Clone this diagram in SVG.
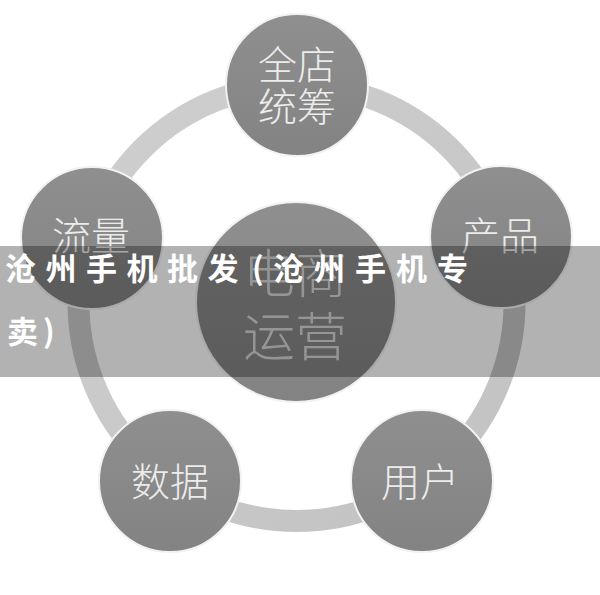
<svg xmlns="http://www.w3.org/2000/svg" width="600" height="595" viewBox="0 0 600 595">
  <defs>
    <linearGradient id="nodeFill" x1="0" y1="0" x2="0" y2="1">
      <stop offset="0" stop-color="#8f8f8f"/>
      <stop offset="1" stop-color="#838383"/>
    </linearGradient>
    <linearGradient id="ringFill" x1="0" y1="0" x2="1" y2="1">
      <stop offset="0" stop-color="#cfcfcf"/>
      <stop offset="1" stop-color="#c2c2c2"/>
    </linearGradient>
  </defs>
  <style>
    .node { fill: url(#nodeFill); stroke: #f2f2f2; stroke-width: 2; }
    .lbl { font-family: "Noto Sans CJK SC", "Noto Sans", sans-serif; font-weight: 300; font-size: 39px; fill: #ececec; text-anchor: middle; dominant-baseline: central; }
    .center-lbl { font-size: 52px; fill: #d6d6d6; }
    .banner-text { font-family: "Noto Sans CJK SC", "Noto Sans", sans-serif; font-weight: bold; font-size: 31px; fill: #ffffff; }
  </style>
  <rect width="600" height="595" fill="#ffffff"/>
  <g id="connectors">
    <circle cx="296.5" cy="303" r="218" fill="none" stroke="url(#ringFill)" stroke-width="22"/>
  </g>
  <g id="node-center">
    <circle class="node" cx="296" cy="302" r="100"/>
    <text class="lbl center-lbl" x="295" y="270">电商</text>
    <text class="lbl center-lbl" x="295" y="333">运营</text>
  </g>
  <g id="node-top">
    <circle class="node" cx="297" cy="85" r="71"/>
    <text class="lbl" x="297" y="62">全店</text>
    <text class="lbl" x="297" y="104">统筹</text>
  </g>
  <g id="node-right">
    <circle class="node" cx="501" cy="237" r="71"/>
    <text class="lbl" x="500" y="233">产品</text>
  </g>
  <g id="node-left">
    <circle class="node" cx="92" cy="238" r="71"/>
    <text class="lbl" x="91" y="233">流量</text>
  </g>
  <g id="node-bottom-left">
    <circle class="node" cx="170" cy="481" r="71"/>
    <text class="lbl" x="170" y="479">数据</text>
  </g>
  <g id="node-bottom-right">
    <circle class="node" cx="422" cy="481" r="71"/>
    <text class="lbl" x="420" y="479">用户</text>
  </g>
  <g id="banner">
    <rect x="0" y="246" width="600" height="131" fill="#000000" fill-opacity="0.3"/>
    <text class="banner-text" x="5 45.5 86 126.5 167 207.5 252 273 314 355 396 437" y="280">沧州手机批发(沧州手机专</text>
    <text class="banner-text" x="7 43" y="343">卖)</text>
  </g>
</svg>
